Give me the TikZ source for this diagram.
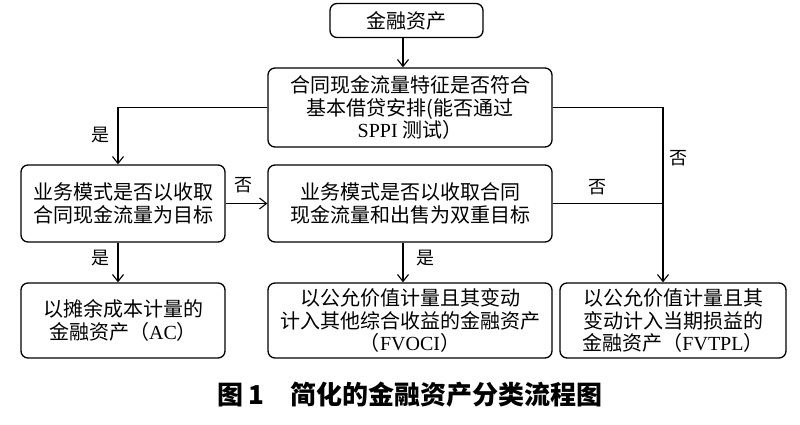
\documentclass[tikz,border=0pt]{standalone}
\usepackage{fontspec}
\setmainfont{Noto Sans CJK SC}
\newfontfamily\latfont{Liberation Serif}
\usepackage{tikz}
\usetikzlibrary{arrows.meta,calc,positioning}

\begin{document}
\begin{tikzpicture}[x=1pt,y=-1pt,
  box/.style={draw,line width=1.3pt,rounded corners=7pt,align=center,inner sep=0pt,
    font=\fontsize{20}{22.5}\selectfont},
  arr/.style={line width=1.3pt,-{Straight Barb[length=7pt,width=11pt,line width=1.1pt]}},
  conn/.style={line width=1.3pt},
  lbl/.style={font=\fontsize{18}{20}\selectfont}]
\useasboundingbox (0,0) rectangle (800,424);
% boxes
\node[box,minimum width=153pt,minimum height=34pt] (fin) at (406.5,20.5) {金融资产};
\node[box,minimum width=284pt,minimum height=79pt] (sppi) at (410,107.5)
  {合同现金流量特征是否符合\\基本借贷安排(能否通过\\{\latfont SPPI} 测试）};
\node[box,minimum width=204pt,minimum height=77pt] (hold) at (123,203.5)
  {业务模式是否以收取\\合同现金流量为目标};
\node[box,minimum width=284pt,minimum height=77pt] (both) at (410,203.5)
  {业务模式是否以收取合同\\现金流量和出售为双重目标};
\node[box,minimum width=204pt,minimum height=75pt] (ac) at (123,320.5)
  {以摊余成本计量的\\金融资产（{\latfont AC}）};
\node[box,minimum width=284pt,minimum height=75pt] (fvoci) at (410,320.5)
  {以公允价值计量且其变动\\计入其他综合收益的金融资产\\（{\latfont FVOCI}）};
\node[box,minimum width=226pt,minimum height=75pt] (fvtpl) at (673,320.5)
  {以公允价值计量且其\\变动计入当期损益的\\金融资产（{\latfont FVTPL}）};
% guide columns
\coordinate (lx) at (118,0);
\coordinate (mx) at (403,0);
\coordinate (rx) at (663,0);
% connectors
\draw[arr] (mx |- fin.south) -- (mx |- sppi.north);
\draw[arr] (sppi.west) -| (lx |- hold.north);
\draw[arr] (sppi.east) -| (rx |- fvtpl.north);
\draw[arr] (hold.east) -- (both.west);
\draw[conn] (both.east) -- (rx |- both.east);
\draw[arr] (lx |- hold.south) -- (lx |- ac.north);
\draw[arr] (mx |- both.south) -- (mx |- fvoci.north);
% labels
\node[lbl] (y1) at (100,135) {是};
\node[lbl] (n1) at (678,158) {否};
\node[lbl] (n2) at (243,185) {否};
\node[lbl] (n3) at (597,187) {否};
\node[lbl] (y2) at (100,258) {是};
\node[lbl] (y3) at (425,258) {是};
% caption
\node[font=\fontsize{26}{28}\selectfont\bfseries] (cap) at (410,395)
  {图\,1\hspace{26pt}简化的金融资产分类流程图};
\end{tikzpicture}
\end{document}
